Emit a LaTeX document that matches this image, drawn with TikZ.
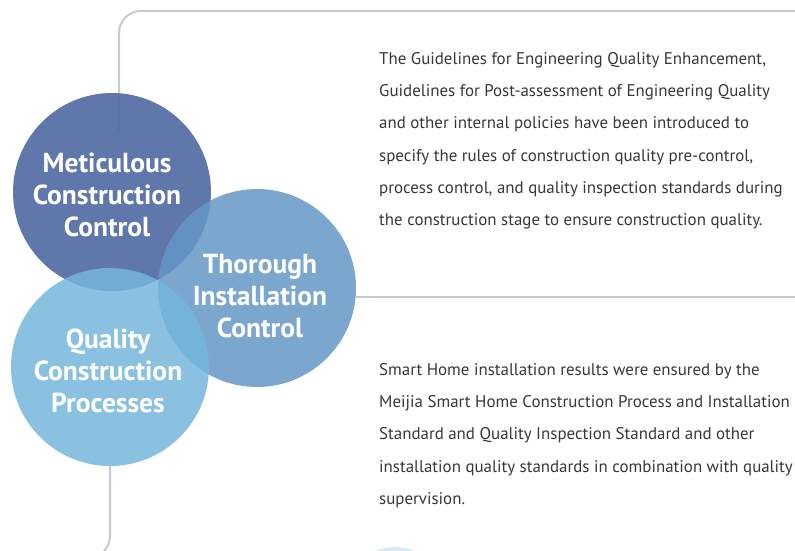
\documentclass[tikz,border=0pt]{standalone}
\usepackage{fontspec}
\setmainfont{PT Sans}
\usetikzlibrary{positioning}

\definecolor{metblue}{RGB}{82,107,164}
\definecolor{thorblue}{RGB}{100,151,198}
\definecolor{qualblue}{RGB}{117,182,220}
\definecolor{nextblue}{RGB}{214,234,244}
\definecolor{framegray}{RGB}{200,201,206}
\definecolor{bodytext}{RGB}{55,55,55}

\tikzset{
  frame/.style={draw=framegray, line width=2pt},
  bubble/.style={circle, minimum size=198pt, inner sep=0pt},
  bubbletext/.style={align=center, inner sep=0pt, text=white,
    font=\bfseries\fontsize{27.5}{32}\selectfont},
  desc/.style={anchor=north west, inner sep=0pt, align=left, text=bodytext,
    font=\fontsize{16.9}{32.3}\selectfont}
}

\begin{document}
\begin{tikzpicture}[x=1pt,y=-1pt]
\useasboundingbox (0,0) rectangle (795,551);
\clip (0,0) rectangle (795,551);

% frame lines, behind the circles
\coordinate (topin) at (119,130);
\coordinate (topend) at (795,11);
\draw[frame, rounded corners=22] (topin) |- (topend);

% the three circles
\node[bubble, fill=metblue, fill opacity=0.92] (met) at (112,192) {};
\node[bubble, fill=thorblue, fill opacity=0.85] (thor) at (257,288) {};
\node[bubble, fill=qualblue, fill opacity=0.85] (qual) at (110,367) {};
\node[circle, minimum size=100pt, fill=nextblue] (next) at (395,597) {};

\node[bubbletext] (metlabel) at (107,195) {Meticulous\\Construction\\Control};
\node[bubbletext] (thorlabel) at (260,296) {Thorough\\Installation\\Control};
\node[bubbletext] (quallabel) at (108,371) {Quality\\Construction\\Processes};

\coordinate (midend) at (795,297);
\coordinate (botend) at (40,558);
\draw[frame] (thor.east |- midend) -- (midend);
\draw[frame, rounded corners=22] (qual.south) |- (botend);

% descriptions
\node[desc] (txtmet) at (379,52)
  {The Guidelines for Engineering Quality Enhancement,\\
   Guidelines for Post-assessment of Engineering Quality\\
   and other internal policies have been introduced to\\
   specify the rules of construction quality pre-control,\\
   process control, and quality inspection standards during\\
   the construction stage to ensure construction quality.};
\node[desc] (txtthor) at (379,363)
  {Smart Home installation results were ensured by the\\
   Meijia Smart Home Construction Process and Installation\\
   Standard and Quality Inspection Standard and other\\
   installation quality standards in combination with quality\\
   supervision.};
\end{tikzpicture}
\end{document}
